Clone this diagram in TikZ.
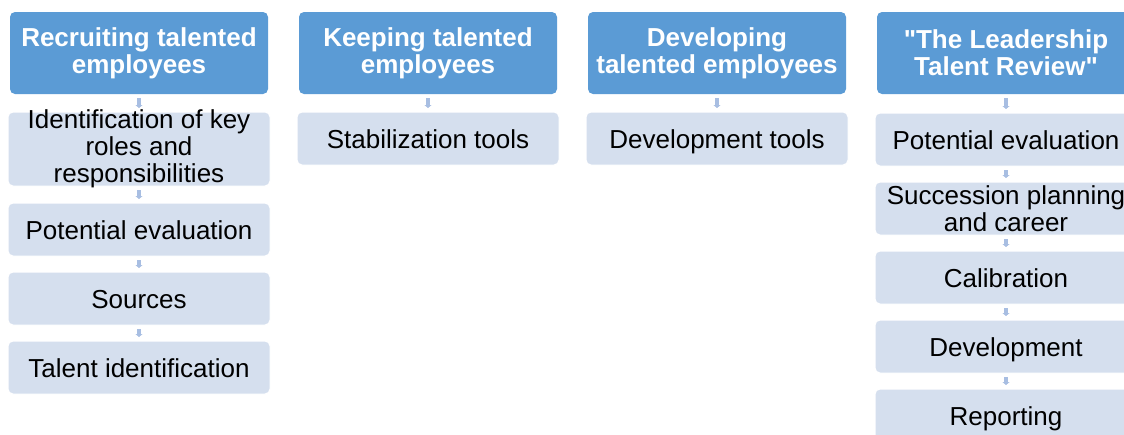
\documentclass[tikz,border=0pt]{standalone}
\usepackage{fontspec}
\setmainfont{Liberation Sans}[Ligatures=TeXOff]
\usetikzlibrary{positioning,arrows.meta}
\definecolor{H}{RGB}{91,155,213}
\definecolor{B}{RGB}{213,223,238}
\definecolor{A}{RGB}{168,190,226}
\tikzset{
  head/.style={fill=H, rounded corners=5pt, minimum width=258pt, minimum height=82pt,
    inner sep=0pt, outer sep=0pt, align=center, text=white, font=\fontsize{26}{27}\selectfont\bfseries},
  item/.style={fill=B, draw=white, line width=1pt, rounded corners=5pt, minimum width=262pt,
    minimum height=53pt, inner sep=0pt, outer sep=0pt, align=center, font=\fontsize{26}{27}\selectfont},
  one/.style={item, text height=22pt, text depth=3pt},
  flow/.style={draw=A, line width=4.5pt, -{Triangle[width=7pt,length=3pt]},
    shorten <=4pt, shorten >=4pt}
}

\begin{document}
\begin{tikzpicture}[x=1pt,y=1pt]
\useasboundingbox (0,0) rectangle (1124,-434);
\node[head] (h1) at (139,-53) {Recruiting talented\\employees};
\node[head] (h2) at (428,-53) {Keeping talented\\employees};
\node[head] (h3) at (717,-53) {Developing\\talented employees};
\node[head] (h4) at (1006,-53) {"The Leadership\\Talent Review"};
\node[item, minimum height=74pt, inner ysep=-3.5pt, below=18pt of h1] (r1) {Identification of key\\roles and\\responsibilities};
\node[one, below=17pt of r1] (r2) {Potential evaluation};
\node[one, below=16pt of r2] (r3) {Sources};
\node[one, below=16pt of r3] (r4) {Talent identification};
\node[one, below=18pt of h2] (k1) {Stabilization tools};
\node[one, below=18pt of h3] (d1) {Development tools};
\node[one, below=19pt of h4] (t1) {Potential evaluation};
\node[item, inner ysep=-0.5pt, below=16pt of t1] (t2) {Succession planning\\and career};
\node[one, below=16pt of t2] (t3) {Calibration};
\node[one, below=16pt of t3] (t4) {Development};
\node[one, below=16pt of t4] (t5) {Reporting};
\foreach \a/\b in {h1/r1,r1/r2,r2/r3,r3/r4,h2/k1,h3/d1,h4/t1,t1/t2,t2/t3,t3/t4,t4/t5}
  \draw[flow] (\a.south) -- (\b.north);
\end{tikzpicture}
\end{document}
